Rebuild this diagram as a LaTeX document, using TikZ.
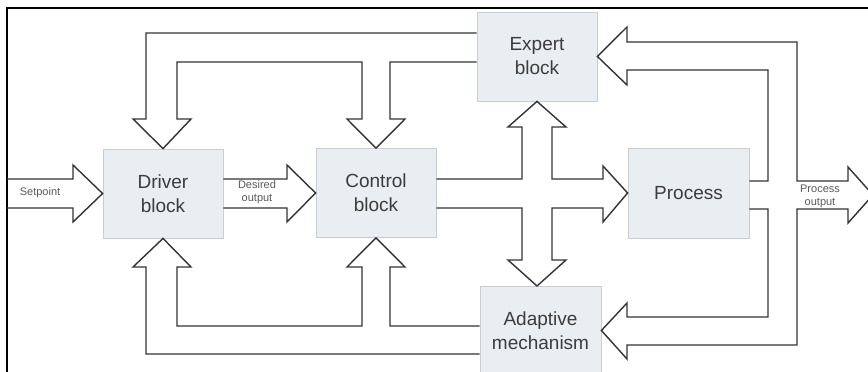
\documentclass[tikz,border=0pt]{standalone}
\usepackage{fontspec}
\setmainfont{Liberation Sans}
\definecolor{blockfill}{HTML}{E9EEF3}
\definecolor{blockline}{HTML}{C9CDD2}
\definecolor{pipe}{HTML}{333333}
\definecolor{labeltext}{HTML}{3C3C3C}
\definecolor{smalltext}{HTML}{5A5A5A}
\tikzset{
  block/.style={draw=blockline, line width=0.8pt, fill=blockfill,
    minimum width=120pt, minimum height=89pt, inner sep=0pt,
    align=center, text=labeltext, font=\fontsize{19}{24}\selectfont},
  pipeline/.style={draw=pipe, line width=1.4pt, line join=miter},
  tag/.style={align=center, text=smalltext, inner sep=0pt,
    font=\fontsize{11}{13}\selectfont},
  frame/.style={draw=black, line width=2pt}
}
\begin{document}
\begin{tikzpicture}[x=1pt,y=-1pt]
\useasboundingbox (0,0) rectangle (868,372);
\fill[white] (0,0) rectangle (868,372);

% outer frame (left and top edges visible)
\draw[frame] (7,390) -- (7,8) -- (880,8);

% blocks
\node[block] (drv) at (163,193.5) {Driver\\block};
\node[block] (ctl) at (376,193) {Control\\block};
\node[block] (exp) at (537,56.5) {Expert\\block};
\node[block, minimum width=121pt, minimum height=90pt] (prc) at (688.5,193) {Process};
\node[block, minimum width=121pt] (ada) at (540.5,330.5) {Adaptive\\mechanism};

% setpoint input
\draw[pipeline] (7,179) -- (73,179) -- (73,165) -- (drv.west) -- (73,222) -- (73,208) -- (7,208);
\node[tag] (sp) at (40,193) {Setpoint};

% desired output from driver to control
\draw[pipeline] (drv.east |- 0,179) -- (287,179) -- (287,165) -- (ctl.west) -- (287,222) -- (287,208) -- (drv.east |- 0,208);
\node[tag] (dso) at (257,192) {Desired\\output};

% control block output, split to expert, process and adaptive mechanism
\draw[pipeline] (ctl.east |- 0,179) -- (522,179) -- (522,127) -- (508,127) -- (exp.south)
  -- (566,127) -- (552,127) -- (552,179) -- (603,179) -- (603,166) -- (prc.west)
  -- (603,222) -- (603,208) -- (552,208) -- (552,260) -- (566,260) -- (537,286)
  -- (508,260) -- (522,260) -- (522,208) -- (ctl.east |- 0,208);

% process output, fed back to expert and adaptive mechanism
\draw[pipeline] (prc.east |- 0,181) -- (768,181) -- (768,70) -- (627,70) -- (627,85)
  -- (exp.east) -- (627,27) -- (627,42) -- (797,42) -- (797,181) -- (848,181)
  -- (848,167) -- (873,195) -- (848,223) -- (848,209) -- (797,209) -- (797,345)
  -- (627,345) -- (627,359) -- (ada.east) -- (627,303) -- (627,317) -- (768,317)
  -- (768,209) -- (prc.east |- 0,209);
\node[tag] (po) at (820,196) {Process\\output};

% expert block to driver and control blocks
\draw[pipeline] (exp.west |- 0,33) -- (146,33) -- (146,119) -- (133,119) -- (drv.north)
  -- (191,119) -- (177,119) -- (177,62) -- (362,62) -- (362,119) -- (347,119)
  -- (ctl.north) -- (405,119) -- (390,119) -- (390,62) -- (exp.west |- 0,62);

% adaptive mechanism to driver and control blocks
\draw[pipeline] (ada.west |- 0,354) -- (146,354) -- (146,267) -- (133,267) -- (drv.south)
  -- (191,267) -- (177,267) -- (177,326) -- (362,326) -- (362,267) -- (347,267)
  -- (ctl.south) -- (405,267) -- (390,267) -- (390,326) -- (ada.west |- 0,326);
\end{tikzpicture}
\end{document}
